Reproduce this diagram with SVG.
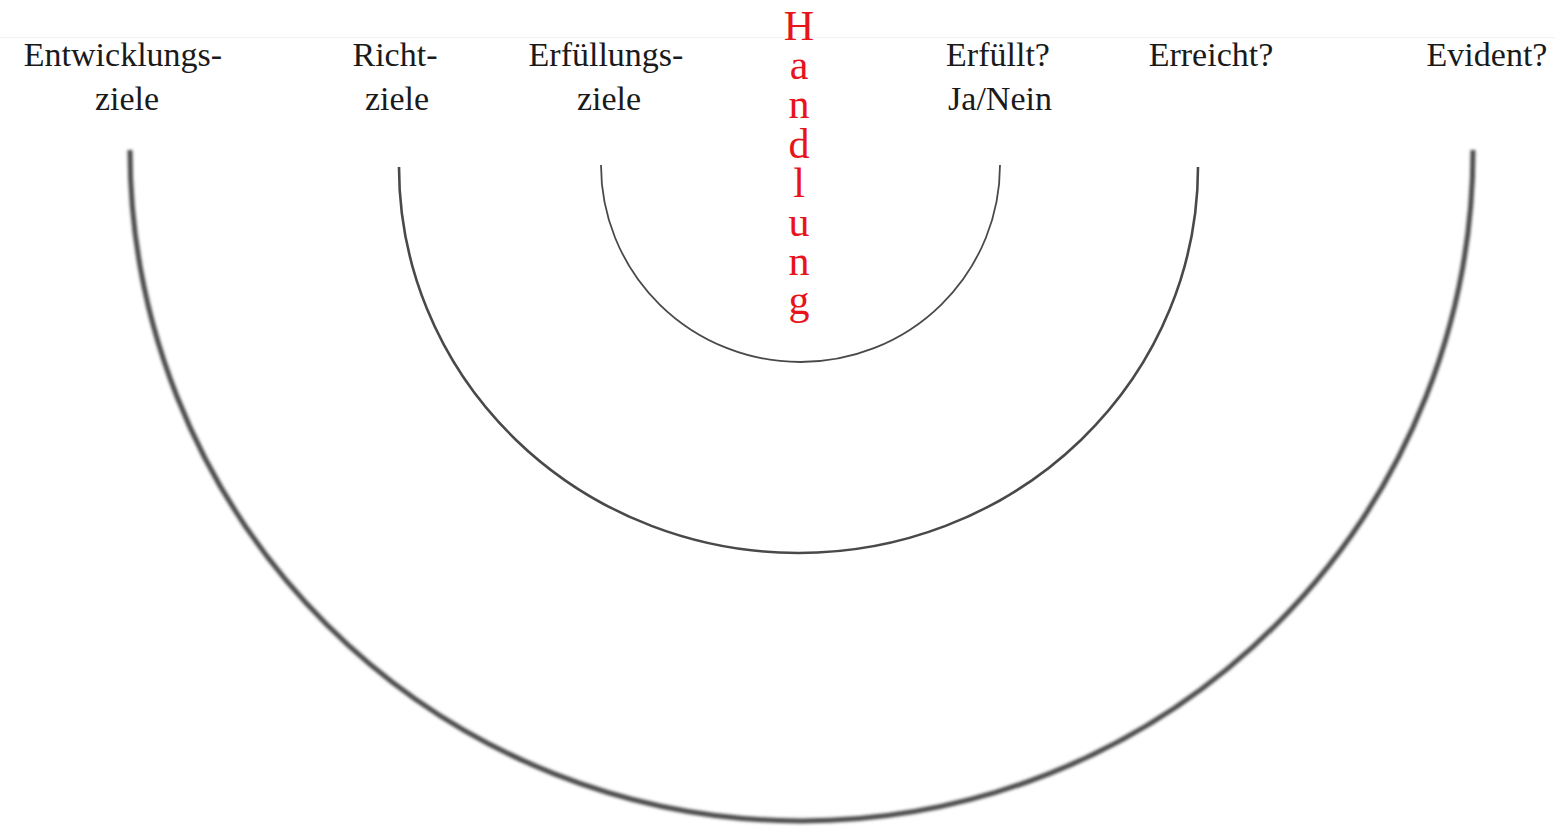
<svg xmlns="http://www.w3.org/2000/svg" width="1555" height="829" viewBox="0 0 1555 829">
<defs>
<style>
.lbl{font-family:"Liberation Serif","Times New Roman",serif;font-size:34px;fill:#1a1a1a;text-anchor:middle}
.red{font-family:"Liberation Serif","Times New Roman",serif;font-size:42px;fill:#e8141b;writing-mode:vertical-rl;text-orientation:upright;letter-spacing:-6.8px}
.arc{fill:none;stroke:#4a4a4a}
</style>
<filter id="b1" x="-5%" y="-5%" width="110%" height="110%"><feGaussianBlur stdDeviation="0.6"/></filter>
<filter id="b2" x="-5%" y="-5%" width="110%" height="110%"><feGaussianBlur stdDeviation="1.4"/></filter>
</defs>
<rect width="1555" height="829" fill="#ffffff"/>
<line x1="0" y1="37.5" x2="1555" y2="37.5" stroke="#f3f3f3" stroke-width="1"/>
<g id="connectors">
<path id="arc-inner" class="arc" d="M601,165 A199.5,197 0 0 0 1000,165" stroke-width="1.8" filter="url(#b1)"/>
<path id="arc-middle" class="arc" d="M399,167 A399.5,386 0 0 0 1198,167" stroke-width="2.6" filter="url(#b1)"/>
<path id="arc-outer" class="arc" d="M130,150 A671.5,671 0 0 0 1473,150" stroke-width="5" stroke="#505050" filter="url(#b2)"/>
</g>
<g id="entwicklungsziele"><text class="lbl" x="123" y="66">Entwicklungs-</text><text class="lbl" x="127" y="110">ziele</text></g>
<g id="richtziele"><text class="lbl" x="395" y="66">Richt-</text><text class="lbl" x="397" y="110">ziele</text></g>
<g id="erfuellungsziele"><text class="lbl" x="606" y="66">Erfüllungs-</text><text class="lbl" x="609" y="110">ziele</text></g>
<g id="erfuellt"><text class="lbl" x="998" y="66">Erfüllt?</text><text class="lbl" x="1000" y="110">Ja/Nein</text></g>
<g id="erreicht"><text class="lbl" x="1211" y="66">Erreicht?</text></g>
<g id="evident"><text class="lbl" x="1487" y="66">Evident?</text></g>
<g id="handlung">
<text class="red" x="799" y="3">Handlung</text>
</g>
</svg>
